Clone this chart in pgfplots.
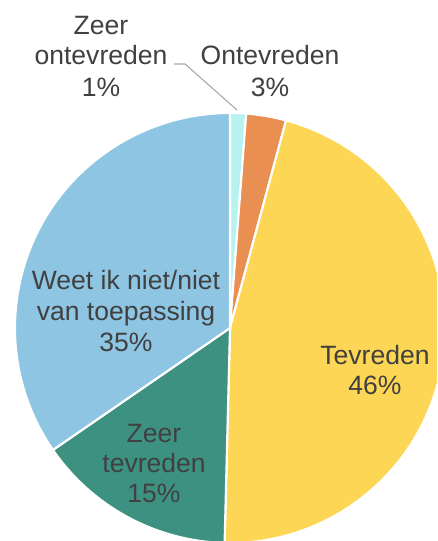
\documentclass[border=0pt]{standalone}
\usepackage{pgfplots}
\usepackage{pgfplotstable}
\pgfplotsset{compat=1.18}
\usepackage{fontspec}
\setmainfont{Liberation Sans}
\definecolor{c1}{HTML}{B8F2EE}
\definecolor{c2}{HTML}{E98F52}
\definecolor{c3}{HTML}{FDD655}
\definecolor{c4}{HTML}{3D9181}
\definecolor{c5}{HTML}{8DC5E3}
\definecolor{txt}{HTML}{404040}
\definecolor{lead}{HTML}{A6A6A6}

% value (percent) and colour of each slice, clockwise from 12 o'clock
\pgfplotstableread{
value color
1.2  c1
3.0  c2
46.2 c3
15.0 c4
34.6 c5
}\piedata

\begin{document}
\begin{tikzpicture}
\begin{axis}[
  x=0.75pt, y=0.75pt,
  xmin=0, xmax=437, ymin=0, ymax=541,
  hide axis, scale only axis,
  clip=true,
]
\coordinate (ll) at (axis cs:0,0);
\coordinate (ur) at (axis cs:437,541);
\def\cum{0}
\pgfplotsforeachungrouped \i in {0,...,4}{%
  \pgfplotstablegetelem{\i}{value}\of\piedata \let\v\pgfplotsretval
  \pgfplotstablegetelem{\i}{color}\of\piedata \let\c\pgfplotsretval
  \pgfmathsetmacro\sa{90-3.6*\cum}%
  \pgfmathsetmacro\ea{90-3.6*(\cum+\v)}%
  \edef\temp{\noexpand\fill[\c, draw=white, line width=1.6pt, line join=miter]
    (axis cs:230,213) -- ++(\sa:161.25pt) arc[start angle=\sa, end angle=\ea, radius=161.25pt] -- cycle;}%
  \temp
  \pgfmathsetmacro\cum{\cum+\v}%
}
\draw[lead, line width=0.8pt] (axis cs:174,{541-64}) -- (axis cs:185,{541-64}) -- (axis cs:237,{541-110});
\begin{scope}[every node/.style={anchor=base, text=txt, font=\fontsize{19.9}{24}\selectfont, inner sep=0pt}]
\node at (axis cs:101,{541-35}) {Zeer};
\node at (axis cs:101,{541-65}) {ontevreden};
\node at (axis cs:101,{541-97}) {1\%};
\node at (axis cs:270,{541-65}) {Ontevreden};
\node at (axis cs:270,{541-97}) {3\%};
\node at (axis cs:126,{541-290}) {Weet ik niet/niet};
\node at (axis cs:126,{541-321}) {van toepassing};
\node at (axis cs:126,{541-352}) {35\%};
\node at (axis cs:375,{541-365}) {Tevreden};
\node at (axis cs:375,{541-395}) {46\%};
\node at (axis cs:154,{541-443}) {Zeer};
\node at (axis cs:154,{541-473}) {tevreden};
\node at (axis cs:154,{541-503}) {15\%};
\end{scope}
\end{axis}
\pgfresetboundingbox
\useasboundingbox (ll) rectangle (ur);
\end{tikzpicture}
\end{document}
